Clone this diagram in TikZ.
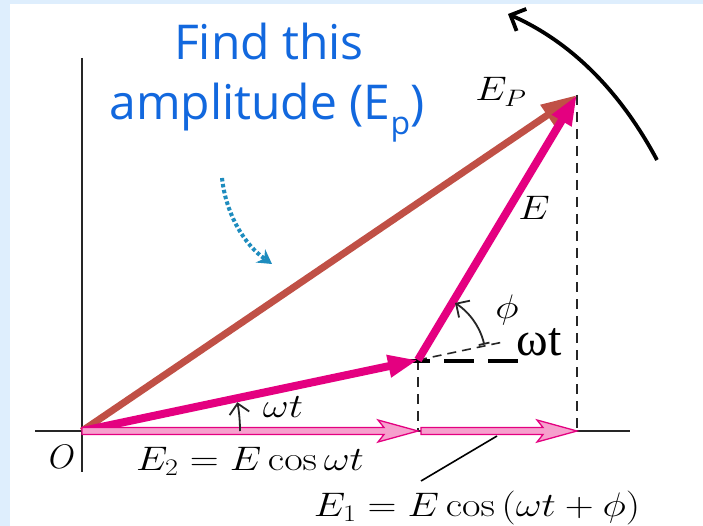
\RequirePackage{fix-cm}
\documentclass[tikz,border=0pt]{standalone}
\usepackage{fontspec}
\usepackage{graphicx}
\usetikzlibrary{arrows.meta,calc}
\newfontfamily\notefont{Open Sans}
\newfontfamily\romanfont{Liberation Serif}
\definecolor{Mag}{RGB}{228,0,128}
\definecolor{Pnk}{RGB}{246,160,205}
\definecolor{Brn}{RGB}{192,80,70}
\definecolor{Note}{RGB}{18,104,222}
\definecolor{Teal}{RGB}{30,140,190}
\definecolor{Sky}{RGB}{222,238,253}
% figure labels are wider than they are tall
\newcommand\wide[1]{\scalebox{1.18}[1]{#1}}
% flat pink arrow along the axis, from #1 to #2
\newcommand\flatarrow[2]{%
  \filldraw[fill=Pnk,draw=Mag,line width=1.3pt,line join=miter]
    let \p1=(#1), \p2=(#2) in
    (\x1,\y1+3.5pt) -- (\x2-34pt,\y1+3.5pt) -- (\x2-40pt,\y1+11pt) -- (\x2,\y1)
    -- (\x2-40pt,\y1-11pt) -- (\x2-34pt,\y1-3.5pt) -- (\x1,\y1-3.5pt) -- cycle;}

\begin{document}
\begin{tikzpicture}[x=1pt,y=-1pt,
  lbl/.style={inner sep=0pt,font=\fontsize{34}{35}\selectfont},
  axis/.style={line width=2pt,black!85},
  thindash/.style={line width=1.8pt,black!85,dash pattern=on 10pt off 7pt},
  thickdash/.style={line width=3.5pt,black,dash pattern=on 30pt off 14pt},
  angarrow/.style={line width=1.8pt,black!85,-{Straight Barb[length=10pt,width=20pt]}},
  vec/.style={line width=8pt,Mag,-{Triangle[length=30pt,width=21pt]}}]
\fill[Sky] (0,0) rectangle (703,526);
\fill[white] (10,4) rectangle (703,526);
\useasboundingbox (0,0) rectangle (703,526);

\coordinate (O) at (82,431);
\coordinate (A) at (418,360);
\coordinate (P) at (577,95);
\coordinate (A0) at (418,431);
\coordinate (P0) at (577,431);
\coordinate (B0) at (421,431);
\coordinate (xl) at (35,431);
\coordinate (xr) at (630,431);
\coordinate (yt) at (82,58);
\coordinate (yb) at (82,472);

% axes
\draw[axis] (xl) -- (xr);
\draw[axis] (yt) -- (yb);

% projections
\draw[thindash] (P) -- (P0);
\draw[thindash] (A) -- (A0);
\coordinate (hl) at (400,361);
\coordinate (hr) at (521,361);
\draw[thickdash] (hl) -- (hr);
\draw[line width=1.6pt,black!85,dash pattern=on 9pt off 6pt] (A) -- ($(A)!-88pt!(O)$);

% phasors
\draw[line width=7pt,Brn,-{Triangle[length=36pt,width=23pt]}] (O) -- (P);
\draw[vec] (O) -- (A);
\draw[vec] (A) -- (P);
\flatarrow{O}{A0}
\flatarrow{B0}{P0}

% angles
\draw[angarrow,{Bar[width=11pt]}-{Straight Barb[length=10pt,width=20pt]}]
  ($(A)+(-13:68)$) arc[start angle=-13,end angle=-57,radius=68];
\draw[angarrow]
  ($(O)+(158,0)$) arc[start angle=0,end angle=-10.5,radius=158];

% rotation and hint arrows
\coordinate (rotA) at (657,160);
\coordinate (rotB) at (508,14);
\draw[line width=3.8pt,-{Straight Barb[length=12pt,width=24pt]}]
  (rotA) .. controls (625,100) and (578,45) .. (rotB);
\coordinate (hintA) at (222,178);
\coordinate (hintB) at (272,264);
\draw[Teal,line width=4pt,dash pattern=on 3.5pt off 2.5pt,-{Stealth[length=14pt,width=16pt]}]
  (hintA) .. controls (226,215) and (245,245) .. (hintB);

% labels
\node[lbl] (lO) at (62,457) {$O$};
\node[lbl,anchor=base] (lE2) at (250,470) {\wide{$E_2 = E\cos\omega t$}};
\node[lbl,anchor=base] (lE1) at (477,516) {\wide{$E_1 = E\cos\,(\omega t + \phi)$}};
\node[lbl,anchor=base] (lEP) at (501,101) {\wide{$E_P$}};
\node[lbl] (lE) at (534,208) {\wide{$E$}};
\node[lbl] (lphi) at (507,310) {\wide{$\phi$}};
\node[lbl,anchor=base] (lwt) at (283,417) {\wide{$\omega t$}};
\node[anchor=base,inner sep=0pt,font=\romanfont\fontsize{48}{50}\selectfont] (lbig) at (539,355) {ωt};
\coordinate (ptrA) at (497,436);
\coordinate (ptrB) at (421,481);
\draw[line width=1.6pt] (ptrA) -- (ptrB);

\node[anchor=base,inner sep=0pt,text=Note,font=\notefont\fontsize{48}{50}\selectfont] (find) at (269,60) {Find this};
\node[anchor=base,inner sep=0pt,text=Note,font=\notefont\fontsize{48}{50}\selectfont] (ampl) at (267,120)
  {amplitude (E\raisebox{-0.3em}{\fontsize{32}{32}\selectfont p})};
\end{tikzpicture}
\end{document}
